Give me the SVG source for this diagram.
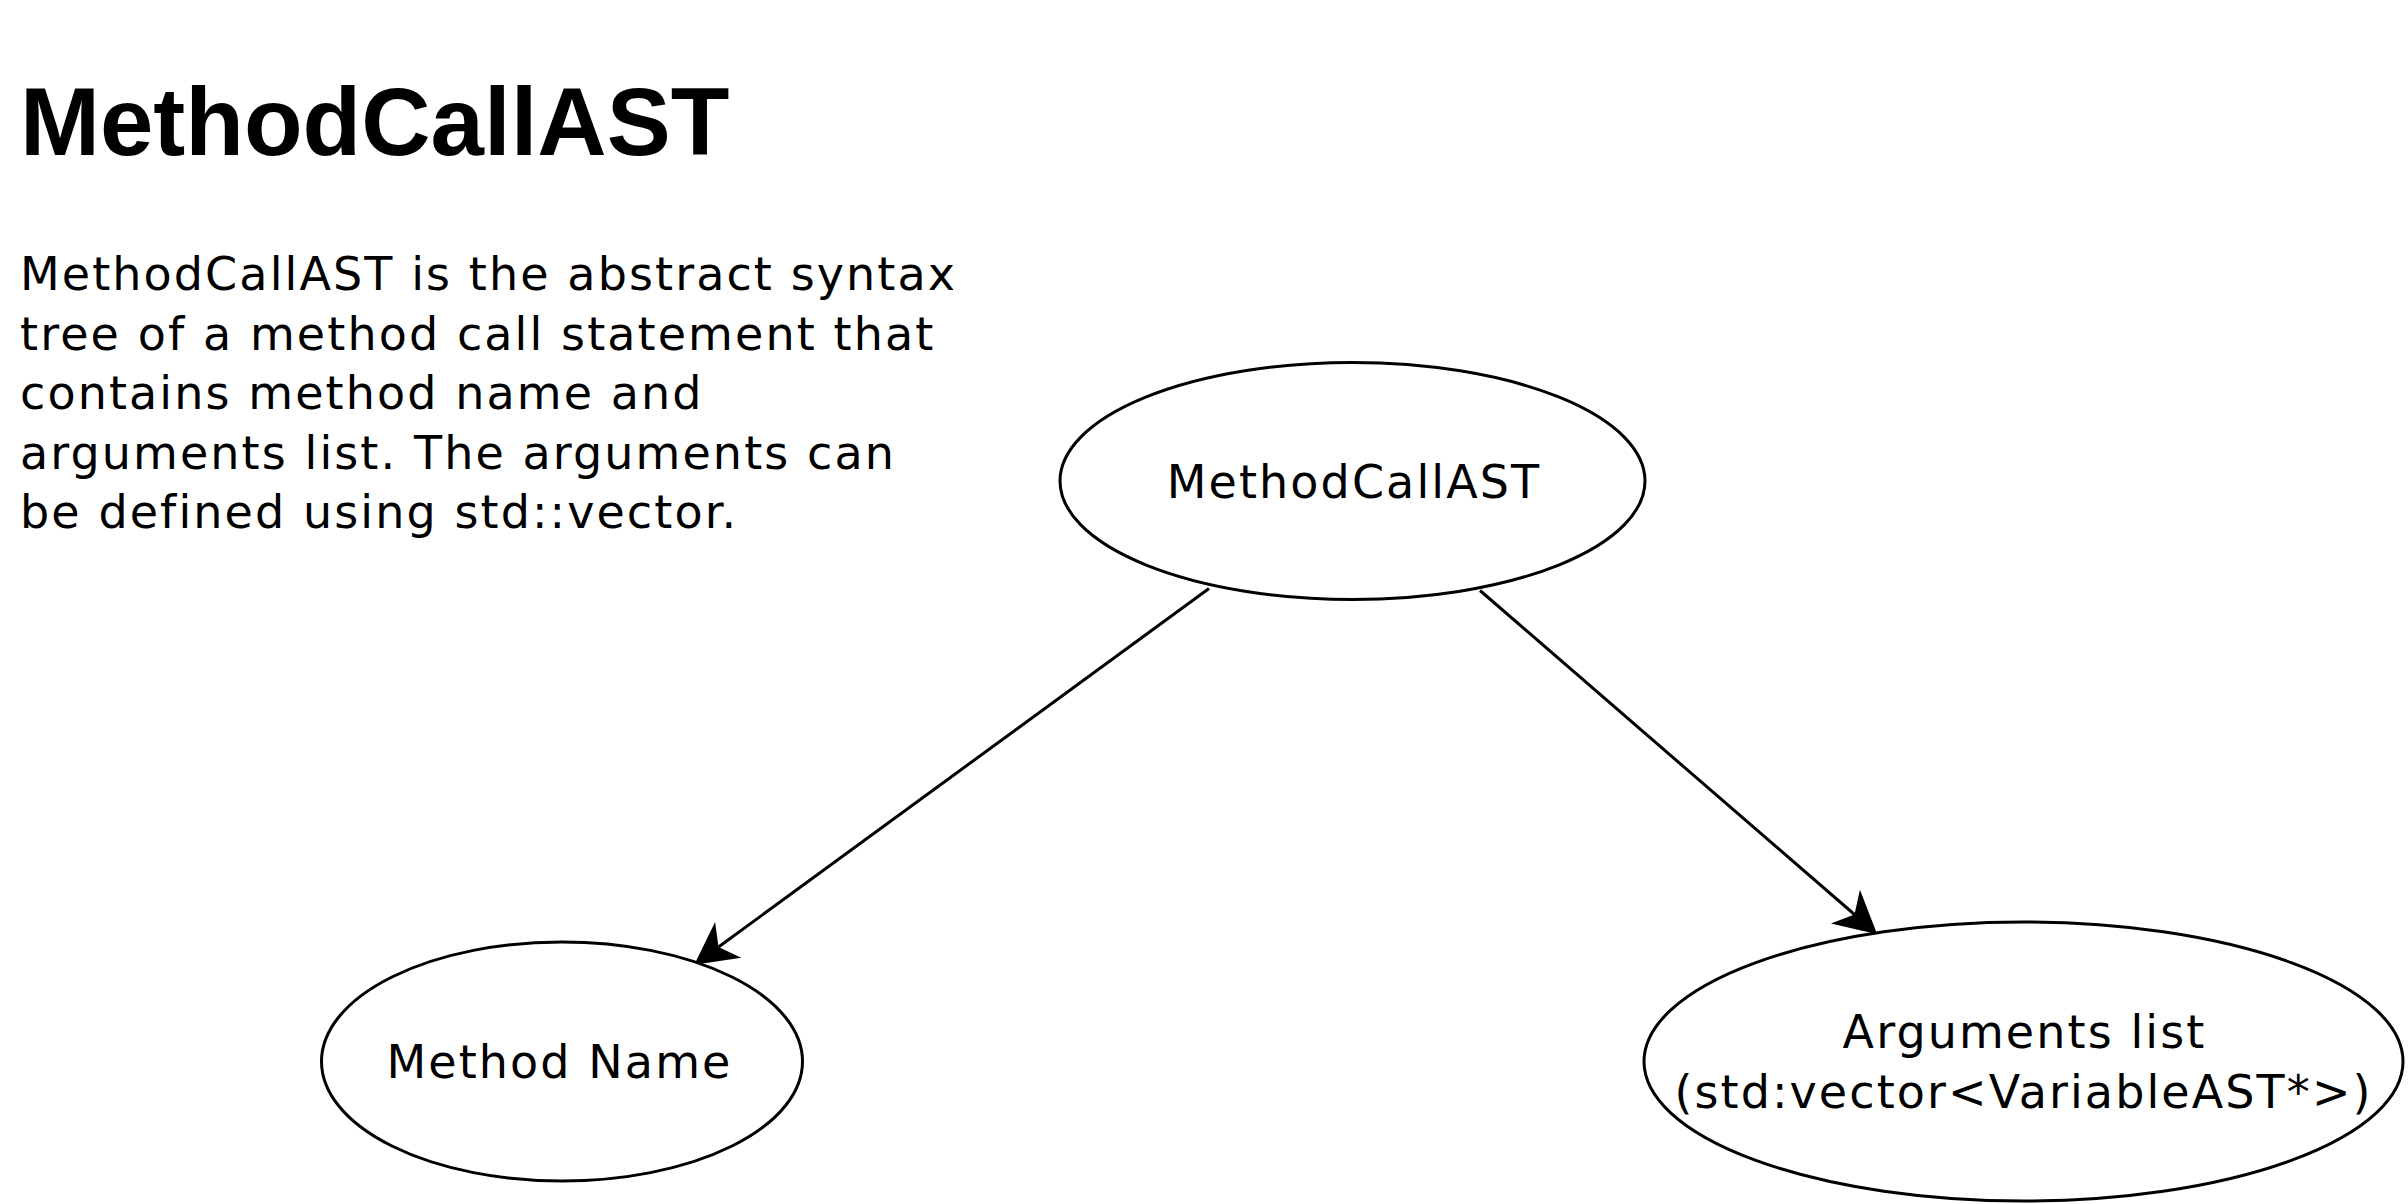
<svg xmlns="http://www.w3.org/2000/svg" width="2408" height="1204" viewBox="0 0 2408 1204">
  <style>
    .title { font-family: "Liberation Sans", Arial, sans-serif; font-weight: bold; font-size: 96px; fill: #000; }
    .desc { font-family: "DejaVu Sans", Verdana, sans-serif; font-size: 46px; letter-spacing: 2.1px; fill: #000; }
    .node ellipse { fill: #fff; stroke: #000; stroke-width: 3; }
    .label { font-family: "DejaVu Sans", Verdana, sans-serif; font-size: 46px; letter-spacing: 2.1px; fill: #000; text-anchor: middle; }
    .edge { fill: none; stroke: #000; stroke-width: 3; marker-end: url(#arrow); }
  </style>
  <defs>
    <marker id="arrow" markerUnits="userSpaceOnUse" orient="auto" refX="0" refY="0" markerWidth="60" markerHeight="60" viewBox="-15 -25 45 50" overflow="visible">
      <path d="M 25 0 L -10 -18.5 L 0 0 L -10 18.5 Z" fill="#000" stroke="none"/>
    </marker>
  </defs>
  <rect x="0" y="0" width="2408" height="1204" fill="#fff"/>

  <g id="title">
    <text class="title" x="20" y="155">MethodCallAST</text>
  </g>
  <g id="description">
    <text class="desc" x="20" y="290">MethodCallAST is the abstract syntax</text>
    <text class="desc" x="20" y="349.6">tree of a method call statement that</text>
    <text class="desc" x="20" y="409.2">contains method name and</text>
    <text class="desc" x="20" y="468.8">arguments list. The arguments can</text>
    <text class="desc" x="20" y="528.4">be defined using std::vector.</text>
  </g>

  <g id="connectors">
    <path id="edge-root-methodname" class="edge" d="M 1209 588.5 L 718.5 947"/>
    <path id="edge-root-arguments" class="edge" d="M 1480 590.5 L 1854.5 914.5"/>
  </g>

  <g id="node-methodcallast" class="node">
    <ellipse cx="1352.5" cy="481" rx="292.5" ry="118.5"/>
    <text class="label" x="1354" y="498.3">MethodCallAST</text>
  </g>
  <g id="node-methodname" class="node">
    <ellipse cx="562" cy="1061.5" rx="240.5" ry="119.5"/>
    <text class="label" x="559.5" y="1078.3">Method Name</text>
  </g>
  <g id="node-arguments" class="node">
    <ellipse cx="2023.5" cy="1061.5" rx="379.5" ry="139.5"/>
    <text class="label" x="2024.5" y="1048.3">Arguments list</text>
    <text class="label" x="2023.5" y="1108.3">(std:vector&lt;VariableAST*&gt;)</text>
  </g>
</svg>
